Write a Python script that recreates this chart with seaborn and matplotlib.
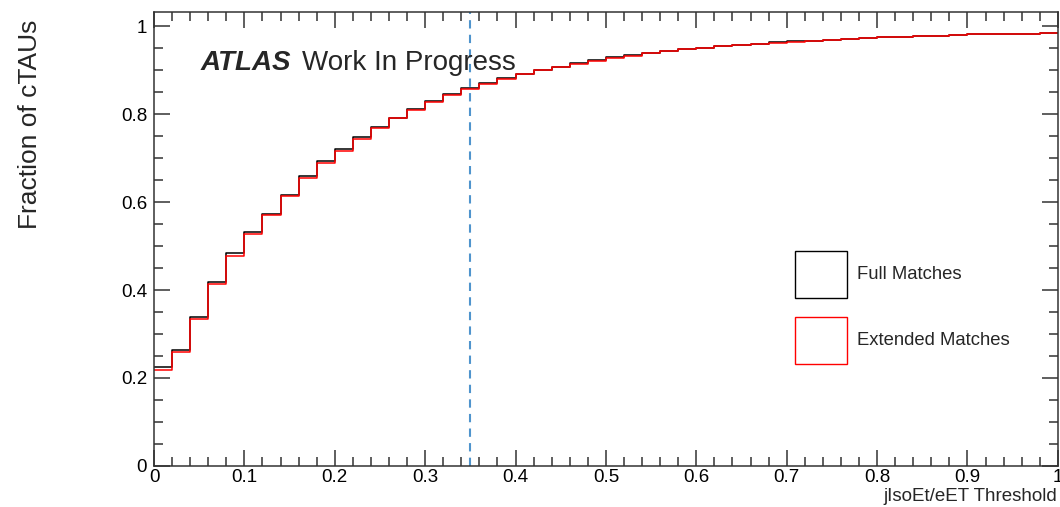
import numpy as np
import pandas as pd
import matplotlib
matplotlib.use("Agg")
import matplotlib.pyplot as plt
from matplotlib.patches import Patch
from matplotlib.ticker import MultipleLocator, FuncFormatter
import seaborn as sns

# threshold scan: 50 bins of 0.02 between 0 and 1
n_bins = 50
bin_centers = (np.arange(n_bins) + 0.5) / n_bins

full_matches = [0.226, 0.264, 0.339, 0.419, 0.483, 0.531, 0.573, 0.617, 0.659, 0.694,
                0.720, 0.747, 0.771, 0.792, 0.812, 0.829, 0.845, 0.859, 0.870, 0.881,
                0.891, 0.901, 0.908, 0.915, 0.922, 0.929, 0.934, 0.939, 0.944, 0.948,
                0.951, 0.955, 0.958, 0.960, 0.963, 0.965, 0.967, 0.969, 0.971, 0.972,
                0.974, 0.976, 0.977, 0.978, 0.980, 0.981, 0.982, 0.982, 0.983, 0.985]
extended_matches = [0.218, 0.259, 0.334, 0.414, 0.478, 0.527, 0.571, 0.614, 0.654, 0.688,
                    0.717, 0.744, 0.769, 0.790, 0.810, 0.827, 0.843, 0.857, 0.869, 0.880,
                    0.890, 0.900, 0.907, 0.914, 0.921, 0.928, 0.933, 0.938, 0.943, 0.947,
                    0.950, 0.954, 0.957, 0.959, 0.962, 0.964, 0.966, 0.968, 0.970, 0.972,
                    0.974, 0.976, 0.977, 0.978, 0.980, 0.981, 0.982, 0.982, 0.983, 0.985]
cut_value = 0.35

df = pd.DataFrame({
    "threshold": np.concatenate([bin_centers, bin_centers]),
    "fraction": full_matches + extended_matches,
    "sample": ["Full Matches"] * n_bins + ["Extended Matches"] * n_bins,
})

sns.set_style("ticks")
plt.rcParams["font.family"] = ["Liberation Sans", "DejaVu Sans"]

fig = plt.figure(figsize=(10.6, 5.07), dpi=100)
ax = fig.add_axes([0.1453, 0.0809, 0.8527, 0.8955])

for name, col in [("Full Matches", "black"), ("Extended Matches", "red")]:
    sns.histplot(data=df[df["sample"] == name], x="threshold", weights="fraction",
                 bins=n_bins, binrange=(0, 1), element="step", fill=False,
                 color=col, linewidth=1.1, ax=ax)

ax.axvline(cut_value, color="#4f94cd", linestyle=(0, (4, 3)), linewidth=1.5)

ax.set_xlim(0, 1)
ax.set_ylim(0, 1.032)
ax.xaxis.set_major_locator(MultipleLocator(0.1))
ax.xaxis.set_minor_locator(MultipleLocator(0.02))
ax.yaxis.set_major_locator(MultipleLocator(0.2))
ax.yaxis.set_minor_locator(MultipleLocator(0.05))
fmt = FuncFormatter(lambda v, p: "%g" % round(v, 3))
ax.xaxis.set_major_formatter(fmt)
ax.yaxis.set_major_formatter(fmt)
ax.tick_params(which="both", direction="in", top=True, right=True,
               colors="#333333", labelcolor="black", labelsize=13.5)
ax.tick_params(which="major", length=11.5, width=1.1)
ax.tick_params(which="minor", length=6.5, width=1.1)
ax.tick_params(axis="x", pad=2)
ax.tick_params(axis="y", pad=5)
for s in ax.spines.values():
    s.set_color("#333333")
    s.set_linewidth(1.1)

ax.set_xlabel("")
ax.set_ylabel("")
fig.text(0.028, 0.755, "Fraction of cTAUs", rotation=90, fontsize=19,
         ha="center", va="center")
fig.text(0.997, 0.02, "jIsoEt/eET Threshold", fontsize=13.5,
         ha="right", va="center")

ax.text(0.051, 0.888, "ATLAS", transform=ax.transAxes, fontsize=20,
        fontweight="bold", fontstyle="italic", va="center")
ax.text(0.164, 0.888, "Work In Progress", transform=ax.transAxes, fontsize=20,
        va="center")

handles = [Patch(facecolor="white", edgecolor="black", linewidth=1),
           Patch(facecolor="white", edgecolor="red", linewidth=1)]
ax.legend(handles, ["Full Matches", "Extended Matches"], loc="upper left",
          bbox_to_anchor=(0.709, 0.474), frameon=False, fontsize=13.3,
          borderpad=0, borderaxespad=0,
          handlelength=2.8, handleheight=3.53, handletextpad=0.55,
          labelspacing=1.03)

fig.savefig("out.png", dpi=100)
